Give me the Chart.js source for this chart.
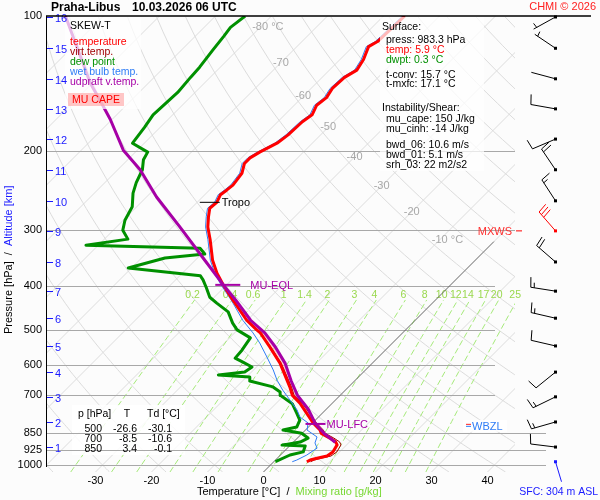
<!DOCTYPE html>
<html>
<head>
<meta charset="utf-8">
<script src="https://cdn.jsdelivr.net/npm/chart.js@4.4.1/dist/chart.umd.min.js"></script>
<style>
  html, body { margin: 0; padding: 0; background: #fcfcfc; }
</style>
</head>
<body>
<canvas id="skewt" width="600" height="500"></canvas>
<script>
// sounding data (pressure hPa / temperature °C)
const tempP = [983.3, 975, 966, 955, 935, 902, 888, 871, 850, 836, 806, 728, 700, 670, 593, 546, 508, 500, 476, 429, 397, 374, 350, 315, 295, 280, 268, 260, 250, 244, 238, 232, 224, 213, 207, 201, 192, 184, 172, 166, 158, 152, 145, 137, 132, 125, 117, 114, 100];
const tempC = [5.9, 6.2, 7.1, 8.5, 8.8, 8.3, 7.5, 5.8, 3.4, 2.6, 0.1, -5.8, -8.5, -10.5, -16.5, -21.2, -25.4, -26.6, -30.1, -36.2, -40.6, -43.8, -46.9, -51.0, -53.7, -55.4, -56.7, -56.5, -57.2, -56.9, -56.7, -56.9, -57.2, -58.5, -58.5, -57.8, -56.3, -55.8, -55.6, -55.1, -56.0, -55.6, -56.2, -56.0, -55.1, -55.8, -57.2, -56.5, -56.2];

const virtP = [983.3, 975, 966, 955, 935, 902, 888, 871, 850, 836, 806, 728, 700, 670, 593, 546, 508, 500, 476, 429, 397];
const virtC = [6.6, 6.9, 7.8, 9.2, 9.5, 9.0, 8.2, 6.5, 4.1, 3.2, 0.7, -5.4, -8.2, -10.2, -16.3, -21.0, -25.3, -26.5, -30.0, -36.1, -40.5];

const dewP = [983.3, 950, 935, 907, 903, 889, 871, 850, 836, 823, 794, 766, 731, 700, 688, 670, 650, 637, 630, 621, 605, 590, 578, 555, 521, 500, 483, 456, 436, 423, 403, 387, 379, 364, 346, 339, 329, 324, 314, 300, 285, 266, 248, 235, 220, 209, 201, 192, 177, 166, 148, 137, 130, 119, 111, 106, 100];
const dewC = [0.3, 1.7, 3.5, 2.8, -1.5, 1.2, 1.9, -0.1, -4.0, -2.1, -2.8, -4.6, -7.0, -10.6, -11.3, -13.5, -18.7, -19.4, -25.4, -21.2, -20.8, -23.3, -25.4, -25.6, -26.3, -30.1, -32.1, -34.9, -38.5, -40.8, -43.1, -45.1, -46.3, -60.6, -55.8, -49.4, -51.3, -72.2, -65.8, -68.3, -69.7, -70.8, -73.1, -74.4, -75.6, -77.2, -77.8, -82.1, -82.8, -83.5, -83.1, -83.5, -83.7, -84.4, -84.9, -85.3, -84.7];

const wetP = [983.3, 975, 950, 917, 893, 866, 836, 806, 782, 754, 717, 681, 647, 614, 575, 535, 508, 476, 436, 429, 397, 374, 350, 315, 295, 280, 268, 260, 250, 244, 238, 232, 224, 213, 207, 201, 192, 184, 172, 166, 158, 152, 145, 137, 132, 125, 117, 114, 100];
const wetC = [3.3, 3.8, 4.7, 5.3, 4.0, 3.3, 0.3, -0.8, -3.3, -5.1, -8.1, -11.2, -14.0, -16.5, -19.9, -23.7, -26.7, -30.8, -35.6, -36.5, -41.0, -44.2, -47.3, -51.4, -54.1, -55.8, -57.1, -56.9, -57.6, -57.3, -57.1, -57.3, -57.6, -58.9, -58.9, -58.2, -56.7, -56.2, -56.0, -55.5, -56.4, -56.0, -56.6, -56.4, -55.5, -56.2, -57.6, -56.9, -56.6];

const parcelP = [890, 850, 810, 750, 700, 650, 593, 546, 508, 476, 429, 397, 338, 295, 253, 220, 199, 170, 154, 141, 100];
const parcelC = [7.5, 3.9, 0.7, -3.3, -7.6, -11.3, -15.6, -20.2, -24.6, -29.4, -35.7, -40.6, -50.4, -58.7, -68.2, -76.0, -82.5, -90.3, -95.6, -100.4, -116.8];

// levels
const lfcP = 810, lfcT = 0.7;
const eqlP = 397, eqlT = -40.6;
const tropoP = 260, tropoT = -56.5;
const wbzlP = 818;

// altitude scale (km) and winds at those heights
const altKm = [1, 2, 3, 4, 5, 6, 7, 8, 9, 10, 11, 12, 13, 14, 15, 16];
const altP = [912, 802, 705, 621, 543, 471, 410, 353, 301, 258, 220, 188, 161, 138, 118, 100.5];
const windDir = [277, 254, 244, 231, 283, 283, 279, 311, 319, 327, 326, 247, 280, 285, 304, 241];
const windKt = [10, 15, 15, 10, 10, 15, 15, 20, 30, 15, 20, 10, 10, 3, 5, 5];

// axes / grid labels
const pressTicks = [100, 200, 300, 400, 500, 600, 700, 850, 925, 1000];
const tempTicks = [-30, -20, -10, 0, 10, 20, 30, 40];
const isoLabelT = [-80, -70, -60, -50, -40, -30, -20, -10];
const isoLabelP = [106, 127, 151, 177, 206, 239, 273, 315];
const mixRatios = [0.2, 0.4, 0.6, 1, 1.4, 2, 3, 4, 6, 8, 10, 12, 14, 17, 20, 25];

// text boxes
const tableP = [500, 700, 850];
const tableT = [-26.6, -8.5, 3.4];
const tableTd = [-30.1, -10.6, -0.1];
const sfcPress = 983.3, sfcTemp = 5.9, sfcDwpt = 0.3, tConv = 15.7, tMxfc = 17.1;
const muCape = 150, muCinh = -14, bwd06 = 10.6, bwd01 = 5.1, srh03 = 22;
const sfcAlt = 304;

// skew-T geometry: x value = temperature at the bottom pressure of the diagram
const P_BOT = 1036.5, P_TOP = 100;
const SKEW = 80.18;              // deg C per pressure decade (45 deg isotherms)
const X_MIN = -38.84, X_MAX = 44.91;
const skewX = (t, p) => t + SKEW * Math.log10(P_BOT / p);
const pts = (pArr, tArr) => pArr.map((p, i) => ({ x: skewX(tArr[i], p), y: p }));

const FONT = "'Liberation Sans', Arial, sans-serif";
Chart.defaults.font.family = FONT;

// CAPE area: parcel from LFC up to EQL, back down along virtual temperature
const capePts = pts(parcelP, parcelC).filter(d => d.y <= lfcP && d.y >= eqlP)
  .concat(pts(virtP, virtC).filter(d => d.y <= lfcP && d.y >= eqlP).reverse());

function txt(ctx, s, x, y, color, size, align, weight) {
  ctx.font = (weight || '') + ' ' + (size || 10.5) + 'px ' + FONT;
  ctx.fillStyle = color || '#000';
  ctx.textAlign = align || 'left';
  ctx.textBaseline = 'middle';
  ctx.fillText(s, x, y);
}

const mixT = (w, p) => {
  const e = w * p / (622 + w);
  const l = Math.log(e / 6.112);
  return 243.5 * l / (17.67 - l);
};

const gridPlugin = {
  id: 'skewGrid',
  beforeDraw(chart) {
    const ctx = chart.ctx;
    ctx.save();
    ctx.fillStyle = '#fcfcfc';
    ctx.fillRect(0, 0, chart.width, chart.height);
    ctx.restore();
  },
  beforeDatasetsDraw(chart) {
    const { ctx, chartArea: a, scales: { x, y } } = chart;
    const px = (t, p) => x.getPixelForValue(skewX(t, p));
    const py = p => y.getPixelForValue(p);
    ctx.save();
    ctx.beginPath();
    ctx.rect(a.left, a.top, a.right - a.left, a.bottom - a.top);
    ctx.clip();

    // isotherms
    ctx.strokeStyle = '#dcdcdc';
    ctx.lineWidth = 1;
    for (let t = -150; t <= 50; t += 10) {
      ctx.beginPath();
      ctx.moveTo(px(t, P_BOT), py(P_BOT));
      ctx.lineTo(px(t, P_TOP), py(P_TOP));
      ctx.stroke();
    }
    // dry adiabats
    for (let th = -40; th <= 260; th += 10) {
      ctx.beginPath();
      for (let p = P_BOT; p >= P_TOP - 1; p -= 8) {
        const t = (th + 273.15) * Math.pow(p / 1000, 0.2857) - 273.15;
        if (p === P_BOT) ctx.moveTo(px(t, p), py(p)); else ctx.lineTo(px(t, p), py(p));
      }
      ctx.stroke();
    }
    // mixing ratio lines
    ctx.strokeStyle = '#a6ea7a';
    ctx.setLineDash([6, 3]);
    mixRatios.forEach(w => {
      ctx.beginPath();
      ctx.moveTo(px(mixT(w, P_BOT), P_BOT), py(P_BOT));
      for (let p = 1000; p >= 429; p -= 40) ctx.lineTo(px(mixT(w, p), p), py(p));
      ctx.lineTo(px(mixT(w, 429), 429), py(429));
      ctx.stroke();
    });
    ctx.setLineDash([]);
    ctx.restore();

    // labels of isotherms and mixing ratio
    ctx.save();
    isoLabelT.forEach((t, i) => {
      const num = String(t);
      const xx = px(t, isoLabelP[i]), yy = py(isoLabelP[i]);
      ctx.font = '11px ' + FONT;
      const w = ctx.measureText(num).width;
      const s = (i === 0 || i === isoLabelT.length - 1) ? num + ' °C' : num;
      txt(ctx, s, xx - w / 2, yy, '#a8a8a8', 11);
    });
    mixRatios.forEach(w => {
      txt(ctx, String(w), px(mixT(w, 429), 429) - 2, py(418), '#9ad84e', 10.5, 'center');
    });

    // table background (under isobars)
    ctx.fillStyle = 'rgba(255,255,255,0.85)';
    ctx.fillRect(72, 405, 113, 50);

    // isobars
    ctx.strokeStyle = '#a8a8a8';
    ctx.lineWidth = 1;
    pressTicks.forEach(p => {
      if (p === P_TOP) return;
      const yy = Math.round(py(p)) + 0.5;
      const end = p >= 850 ? 546 : (p >= 400 ? 495 : a.right);
      ctx.beginPath();
      ctx.moveTo(a.left, yy);
      ctx.lineTo(end, yy);
      ctx.stroke();
    });

    // 0 deg isotherm guide
    ctx.strokeStyle = '#555';
    ctx.lineWidth = 0.8;
    ctx.beginPath();
    ctx.moveTo(px(0, P_BOT), py(P_BOT));
    ctx.lineTo(px(0, 318), py(318));
    ctx.stroke();

    // table
    txt(ctx, 'p [hPa]', 78, 414, '#000', 10.5);
    txt(ctx, 'T', 127, 414, '#000', 10.5, 'center');
    txt(ctx, 'Td [°C]', 147, 414, '#000', 10.5);
    tableP.forEach((p, i) => {
      const yy = 429 + i * 10;
      txt(ctx, String(p), 102, yy, '#000', 10.5, 'right');
      txt(ctx, tableT[i].toFixed(1), 137, yy, '#000', 10.5, 'right');
      txt(ctx, tableTd[i].toFixed(1), 172, yy, '#000', 10.5, 'right');
    });
    ctx.restore();
  }
};

function drawBarb(ctx, x0, y0, dir, kt, color) {
  const r = dir * Math.PI / 180;
  const ux = Math.sin(r), uy = -Math.cos(r);
  const L = 25;
  const tx = x0 + ux * L, ty = y0 + uy * L;
  const nx = -uy, ny = ux;
  ctx.strokeStyle = color;
  ctx.fillStyle = color;
  ctx.lineWidth = 1;
  ctx.beginPath();
  ctx.moveTo(x0, y0);
  ctx.lineTo(tx, ty);
  const full = Math.floor(kt / 10);
  const half = (kt % 10) >= 5 ? 1 : 0;
  let d = 0;
  for (let i = 0; i < full; i++) {
    const bx = tx - ux * d, by = ty - uy * d;
    ctx.moveTo(bx, by);
    ctx.lineTo(bx + nx * 10 + ux * 1.5, by + ny * 10 + uy * 1.5);
    d += 3.5;
  }
  if (half) {
    if (full === 0) d = 3.5;
    const bx = tx - ux * d, by = ty - uy * d;
    ctx.moveTo(bx, by);
    ctx.lineTo(bx + nx * 5 + ux * 0.8, by + ny * 5 + uy * 0.8);
  }
  ctx.stroke();
  ctx.fillRect(x0 - 1.5, y0 - 1.5, 3, 3);
}

const overlayPlugin = {
  id: 'overlay',
  afterDatasetsDraw(chart) {
    const { ctx, chartArea: a, scales: { x, y } } = chart;
    const px = (t, p) => x.getPixelForValue(skewX(t, p));
    const py = p => y.getPixelForValue(p);
    ctx.save();

    // level markers
    ctx.lineWidth = 1;
    ctx.strokeStyle = '#000';
    let xx = px(tropoT, tropoP), yy = py(tropoP);
    ctx.beginPath(); ctx.moveTo(xx - 17, yy); ctx.lineTo(xx + 3, yy); ctx.stroke();
    txt(ctx, 'Tropo', xx + 5, yy + 1, '#000', 11);

    ctx.strokeStyle = '#a600a6';
    ctx.lineWidth = 2;
    xx = px(eqlT, eqlP); yy = py(eqlP);
    ctx.beginPath(); ctx.moveTo(xx - 8, yy); ctx.lineTo(xx + 17, yy); ctx.stroke();
    txt(ctx, 'MU-EQL', xx + 27, yy + 1, '#a600a6', 11);
    xx = px(lfcT, lfcP); yy = py(lfcP);
    ctx.beginPath(); ctx.moveTo(xx - 10, yy); ctx.lineTo(xx + 10, yy); ctx.stroke();
    txt(ctx, 'MU-LFC', xx + 11, yy + 1, '#a600a6', 11);

    // wet bulb zero level
    yy = py(wbzlP);
    ctx.fillStyle = 'rgba(255,255,255,0.9)';
    ctx.fillRect(463, yy - 6, 44, 12);
    ctx.lineWidth = 1;
    ctx.strokeStyle = '#ff2020';
    ctx.beginPath(); ctx.moveTo(466, yy - 1.5); ctx.lineTo(471, yy - 1.5); ctx.stroke();
    ctx.strokeStyle = '#2f7df6';
    ctx.beginPath(); ctx.moveTo(466, yy + 0.5); ctx.lineTo(471, yy + 0.5); ctx.stroke();
    txt(ctx, 'WBZL', 472, yy + 1, '#2f7df6', 11);

    // legend box
    ctx.fillStyle = 'rgba(255,255,255,0.72)';
    ctx.fillRect(65, 17, 76, 92);
    txt(ctx, 'SKEW-T', 70, 26, '#000', 10.5);
    txt(ctx, 'temperature', 70, 42.5, '#ff0000', 10.5);
    txt(ctx, 'virt.temp.', 70, 52.5, '#a00000', 10.5);
    txt(ctx, 'dew point', 70, 62.5, '#009000', 10.5);
    txt(ctx, 'wet bulb temp.', 70, 72.5, '#2f7df6', 10.5);
    txt(ctx, 'udpraft v.temp.', 70, 82.5, '#a600a6', 10.5);
    ctx.fillStyle = 'rgba(255,160,160,0.6)';
    ctx.fillRect(68, 93, 56, 13);
    txt(ctx, 'MU CAPE', 96, 100, '#ff0000', 10.5, 'center');

    // surface / instability box
    ctx.fillStyle = 'rgba(255,255,255,0.72)';
    ctx.fillRect(380, 17, 104, 154);
    txt(ctx, 'Surface:', 382, 27.5, '#000', 10.5);
    txt(ctx, 'press: ' + sfcPress.toFixed(1) + ' hPa', 386, 40, '#000', 10.5);
    txt(ctx, 'temp: ' + sfcTemp.toFixed(1) + ' °C', 386, 50, '#ff0000', 10.5);
    txt(ctx, 'dwpt: ' + sfcDwpt.toFixed(1) + ' °C', 386, 60, '#009000', 10.5);
    txt(ctx, 't-conv: ' + tConv.toFixed(1) + ' °C', 386, 75, '#000', 10.5);
    txt(ctx, 't-mxfc: ' + tMxfc.toFixed(1) + ' °C', 386, 84.5, '#000', 10.5);
    txt(ctx, 'Instability/Shear:', 382, 108, '#000', 10.5);
    txt(ctx, 'mu_cape: ' + muCape + ' J/kg', 386, 119.5, '#000', 10.5);
    txt(ctx, 'mu_cinh: ' + muCinh + ' J/kg', 386, 129.5, '#000', 10.5);
    txt(ctx, 'bwd_06: ' + bwd06.toFixed(1) + ' m/s', 386, 145, '#000', 10.5);
    txt(ctx, 'bwd_01: ' + bwd01.toFixed(1) + ' m/s', 386, 155, '#000', 10.5);
    txt(ctx, 'srh_03: ' + srh03 + ' m2/s2', 386, 165, '#000', 10.5);

    // altitude scale
    ctx.strokeStyle = '#1a1aff';
    ctx.lineWidth = 1;
    altKm.forEach((k, i) => {
      const ay = Math.round(py(altP[i])) + 0.5;
      ctx.beginPath(); ctx.moveTo(47, ay); ctx.lineTo(53, ay); ctx.stroke();
      txt(ctx, String(k), 55, ay + 1, '#1a1aff', 11);
    });

    // wind barbs
    const bx = 555.5;
    const maxKt = Math.max(...windKt);
    altKm.forEach((k, i) => {
      const red = windKt[i] === maxKt;
      drawBarb(ctx, bx, py(altP[i]), windDir[i], windKt[i], red ? '#ff0000' : '#000');
      if (red) {
        const my = py(altP[i]);
        txt(ctx, 'MXWS', 512, my + 1, '#ff3030', 11, 'right');
        ctx.strokeStyle = '#ff0000';
        ctx.beginPath(); ctx.moveTo(516, my); ctx.lineTo(522, my); ctx.stroke();
      }
    });
    // surface marker
    const sy = py(sfcPress);
    ctx.strokeStyle = '#1a1aff';
    ctx.fillStyle = '#1a1aff';
    ctx.fillRect(bx - 1.5, sy - 1.5, 3, 3);
    ctx.beginPath(); ctx.moveTo(bx, sy); ctx.lineTo(bx + 6, sy + 20); ctx.stroke();
    txt(ctx, 'SFC: ' + sfcAlt + ' m ASL', 598, 492, '#1a1aff', 10.5, 'right');

    // frame
    ctx.strokeStyle = '#000';
    ctx.lineWidth = 1.5;
    ctx.beginPath(); ctx.moveTo(a.left, a.top); ctx.lineTo(591, a.top); ctx.stroke();
    ctx.lineWidth = 1;
    ctx.beginPath(); ctx.moveTo(a.left + 0.5, a.top); ctx.lineTo(a.left + 0.5, 467); ctx.stroke();

    // titles
    txt(ctx, 'Praha-Libus', 51, 8, '#000', 12, 'left', 'bold');
    txt(ctx, '10.03.2026 06 UTC', 132, 8, '#000', 12, 'left', 'bold');
    txt(ctx, 'CHMI © 2026', 596, 7, '#ff2020', 11, 'right');

    ctx.font = '11px ' + FONT;
    let cx = 197;
    [['Temperature [°C]', '#000'], ['  /  ', '#000'], ['Mixing ratio [g/kg]', '#77d833']].forEach(([s, c]) => {
      txt(ctx, s, cx, 492, c, 11);
      cx += ctx.measureText(s).width;
    });
    ctx.translate(9, 334);
    ctx.rotate(-Math.PI / 2);
    cx = 0;
    [['Pressure [hPa]', '#000'], ['  /  ', '#000'], ['Altitude [km]', '#1a1aff']].forEach(([s, c]) => {
      txt(ctx, s, cx, 0, c, 11);
      cx += ctx.measureText(s).width;
    });
    ctx.restore();
  }
};

new Chart(document.getElementById('skewt'), {
  type: 'line',
  data: {
    datasets: [
      { label: 'udpraft v.temp.', data: pts(parcelP, parcelC), borderColor: '#a600a6', borderWidth: 3, order: 0 },
      { label: 'temperature', data: pts(tempP, tempC), borderColor: '#ff0000', borderWidth: 3, order: 1 },
      { label: 'virt.temp.', data: pts(virtP, virtC), borderColor: '#a00000', borderWidth: 1, order: 2 },
      { label: 'wet bulb temp.', data: pts(wetP, wetC), borderColor: '#2f7df6', borderWidth: 1, order: 3 },
      { label: 'dew point', data: pts(dewP, dewC), borderColor: '#009000', borderWidth: 3, order: 4 },
      { label: 'MU CAPE', data: capePts, borderWidth: 0, borderColor: 'rgba(0,0,0,0)', backgroundColor: 'rgba(255,160,160,0.5)', fill: 'shape', order: 5 }
    ]
  },
  options: {
    responsive: false,
    animation: false,
    devicePixelRatio: 1,
    layout: { padding: { top: 16, right: 85, left: 0, bottom: 0 } },
    plugins: { legend: { display: false }, tooltip: { enabled: false } },
    elements: { point: { radius: 0 }, line: { tension: 0, borderJoinStyle: 'round' } },
    scales: {
      x: {
        type: 'linear', min: X_MIN, max: X_MAX, bounds: 'data',
        grid: { display: false, drawTicks: false }, border: { display: false },
        afterBuildTicks: s => { s.ticks = tempTicks.map(v => ({ value: v })); },
        afterFit: s => { s.height = 28; },
        ticks: { color: '#000', font: { size: 11 }, padding: 2, maxRotation: 0, autoSkip: false, callback: v => String(v) }
      },
      y: {
        type: 'logarithmic', reverse: true, min: P_TOP, max: P_BOT, bounds: 'data',
        grid: { display: false, drawTicks: false }, border: { display: false },
        afterBuildTicks: s => { s.ticks = pressTicks.map(v => ({ value: v })); },
        afterFit: s => { s.width = 46; },
        ticks: { color: '#000', font: { size: 11 }, padding: 4, autoSkip: false, callback: v => String(v) }
      }
    }
  },
  plugins: [gridPlugin, overlayPlugin]
});
</script>
</body>
</html>
